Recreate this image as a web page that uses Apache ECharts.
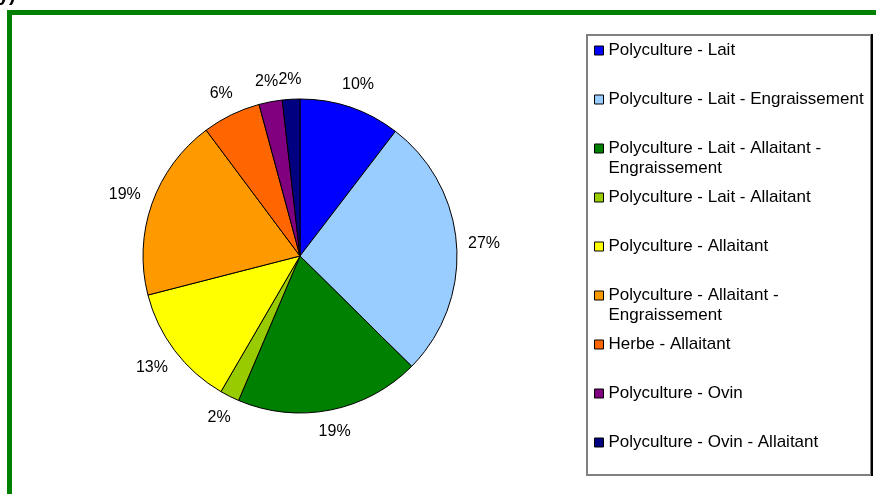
<!DOCTYPE html>
<html>
<head>
<meta charset="utf-8">
<script src="https://cdn.jsdelivr.net/npm/echarts@6/dist/echarts.min.js"></script>
<style>
  html, body { margin: 0; padding: 0; background: #fff; }
  #chart { width: 876px; height: 494px; }
</style>
</head>
<body>
<div id="chart"></div>
<script>
// categories and shares
const names = [
  'Polyculture - Lait',
  'Polyculture - Lait - Engraissement',
  'Polyculture - Lait - Allaitant - Engraissement',
  'Polyculture - Lait - Allaitant',
  'Polyculture - Allaitant',
  'Polyculture - Allaitant - Engraissement',
  'Herbe - Allaitant',
  'Polyculture - Ovin',
  'Polyculture - Ovin - Allaitant'
]
const values = [10.4, 27.0, 19.0, 2.0, 12.6, 18.8, 6.0, 2.4, 1.8]
const colors = ['#0000FF', '#99CCFF', '#008000', '#99CC00', '#FFFF00', '#FF9900', '#FF6600', '#800080', '#000080']

const FONT = 'Liberation Sans, Arial, sans-serif'
const LEG_FS = 17
const LH = 19.5
const CX = 300
const CY = 256
const R = 157
const total = values.reduce((a, b) => a + b, 0)

// legend slot centres
const legendStart = 50.5
const legendPitch = 49

// long names break after the last " - "
function wrapLines(name) {
  if (name.length > 36) {
    const k = name.lastIndexOf(' - ')
    return [name.slice(0, k) + ' -', name.slice(k + 3)]
  }
  return [name]
}

const chart = echarts.init(document.getElementById('chart'))

const legends = names.map((n, i) => {
  const lines = wrapLines(n)
  return {
    orient: 'vertical',
    left: 594,
    top: legendStart + i * legendPitch - (LH / 2 + (lines.length - 1) * LH),
    padding: 0,
    itemGap: 0,
    icon: 'rect',
    itemWidth: 9,
    itemHeight: 9,
    selectedMode: false,
    itemStyle: { borderColor: '#000', borderWidth: 1 },
    data: [n],
    // empty first line keeps the icon level with the first text line
    formatter: name => {
      const l = wrapLines(name)
      return l.length > 1 ? '\n' + l.join('\n') : l[0]
    },
    textStyle: { fontFamily: FONT, fontSize: LEG_FS, lineHeight: LH, color: '#000' }
  }
})

const option = {
  animation: false,
  backgroundColor: '#fff',
  graphic: [
    // cut-off title at the top
    {
      type: 'text',
      left: -2,
      top: -15,
      style: { text: 'y)', font: 'bold 20px ' + FONT, fill: '#000' }
    },
    // green frame
    {
      type: 'rect',
      shape: { x: 9.5, y: 12.5, width: 900, height: 600 },
      style: { fill: 'none', stroke: '#008000', lineWidth: 5 }
    },
    // legend box
    {
      type: 'rect',
      shape: { x: 587, y: 35, width: 284, height: 440 },
      style: { fill: '#fff', stroke: '#808080', lineWidth: 2 },
      z: -1
    },
    {
      type: 'line',
      shape: { x1: 872, y1: 34, x2: 872, y2: 476 },
      style: { stroke: '#000', lineWidth: 2 }
    }
  ],
  legend: legends,
  series: [
    {
      type: 'pie',
      center: [CX, CY],
      radius: R,
      startAngle: 90,
      clockwise: true,
      avoidLabelOverlap: false,
      itemStyle: { borderColor: '#000', borderWidth: 1 },
      label: {
        show: true,
        position: 'outside',
        fontFamily: FONT,
        fontSize: 16,
        color: '#000',
        formatter: p => Math.round(p.percent) + '%'
      },
      labelLine: { show: false },
      labelLayout: function (p) {
        let before = 0
        for (let k = 0; k < p.dataIndex; k++) before += values[k]
        const mid = (before + values[p.dataIndex] / 2) / total * Math.PI * 2
        const ux = Math.sin(mid)
        const uy = -Math.cos(mid)
        const w = p.labelRect.width
        const h = p.labelRect.height
        const t = R + 11 + (w / 2) * Math.abs(ux) + (h / 2) * Math.abs(uy)
        return { x: CX + t * ux, y: CY + t * uy, align: 'center', verticalAlign: 'middle' }
      },
      data: names.map((n, i) => ({ name: n, value: values[i], itemStyle: { color: colors[i] } }))
    }
  ]
}

chart.setOption(option)
</script>
</body>
</html>
